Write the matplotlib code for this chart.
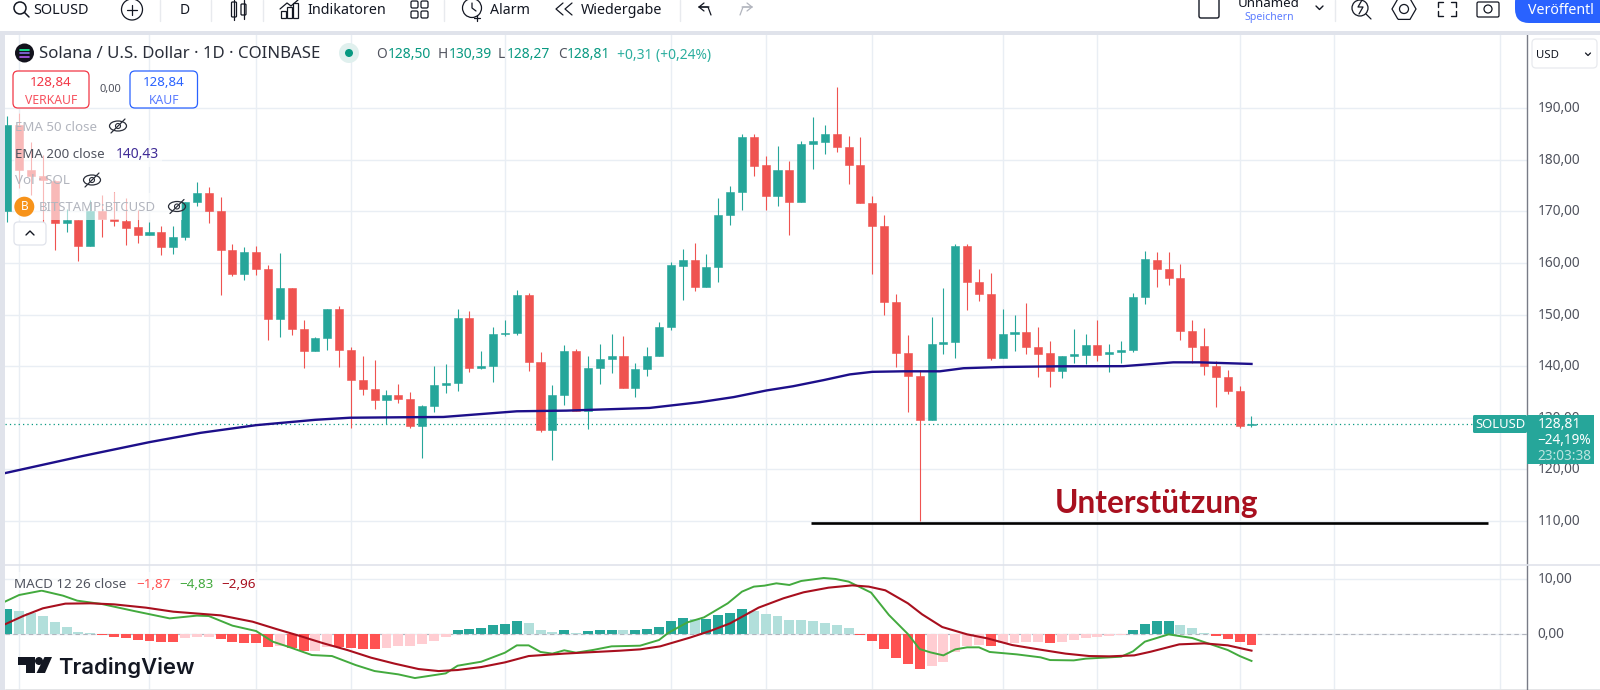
import matplotlib
matplotlib.use("Agg")
import matplotlib.pyplot as plt
from matplotlib.patches import Rectangle, Circle, Ellipse, FancyBboxPatch, Polygon, RegularPolygon
from matplotlib.ticker import FuncFormatter
from matplotlib.transforms import ScaledTranslation

plt.rcParams["font.family"] = ["Noto Sans", "DejaVu Sans"]

# tageskerzen SOL/USD
opens = [169.99, 186.77, 178.06, 176.89, 175.8, 167.73, 168.37, 163.21, 169.99, 168.57,
         168.05, 166.89, 165.47, 165.98, 163.01, 164.95, 171.79, 173.54, 170.12, 162.5,
         157.78, 162.11, 158.88, 149.2, 155.07, 147.13, 143.0, 145.39, 151.14, 143.19,
         137.25, 135.58, 133.45, 134.48, 133.64, 128.41, 132.22, 136.41, 136.74, 149.39,
         139.71, 139.97, 146.29, 146.36, 153.72, 140.74, 127.7, 134.35, 143.0, 131.38,
         139.71, 141.39, 141.97, 135.71, 139.51, 141.97, 147.65, 159.33, 160.56, 155.4,
         159.2, 169.21, 173.73, 184.45, 178.96, 173.02, 178.06, 171.79, 183.09, 183.54,
         185.03, 182.58, 179.09, 171.66, 167.15, 152.49, 142.48, 138.16, 129.64, 144.36,
         144.68, 163.21, 156.36, 154.04, 141.52, 146.23, 146.62, 143.65, 142.48, 139.0,
         141.9, 142.23, 144.16, 142.29, 142.81, 143.13, 153.4, 160.63, 158.88, 157.14,
         146.81, 143.84, 140.03, 137.97, 135.19, 128.5]
highs = [188.52, 189.03, 183.54, 180.96, 176.12, 170.44, 168.37, 172.25, 173.09, 173.73,
         172.57, 170.31, 167.92, 167.08, 167.21, 171.79, 175.67, 174.7, 172.76, 163.72,
         163.08, 163.34, 159.59, 161.85, 155.07, 148.88, 145.65, 151.14, 151.72, 143.71,
         141.9, 141.26, 135.45, 136.61, 135.06, 132.54, 139.97, 140.48, 151.14, 150.62,
         143.0, 147.52, 149.0, 154.81, 154.17, 142.68, 136.41, 144.16, 143.32, 142.03,
         144.23, 146.29, 145.91, 140.61, 143.71, 148.55, 160.11, 162.76, 163.85, 161.72,
         172.63, 174.96, 185.03, 185.03, 180.77, 182.7, 179.86, 183.67, 188.32, 186.77,
         194.07, 184.71, 184.51, 172.96, 169.34, 153.91, 145.97, 139.19, 149.59, 155.14,
         163.72, 163.6, 158.88, 158.04, 151.14, 149.91, 152.17, 147.65, 144.94, 141.97,
         147.2, 146.29, 148.94, 144.36, 144.94, 154.17, 162.37, 162.05, 162.05, 159.85,
         148.88, 147.39, 141.06, 139.19, 136.09, 130.39]
lows = [167.86, 174.51, 173.21, 165.79, 162.56, 165.92, 160.43, 163.21, 164.95, 167.08,
        163.53, 163.85, 165.34, 161.46, 161.66, 164.37, 171.08, 167.66, 153.85, 157.4,
        156.62, 157.59, 145.0, 145.58, 146.03, 139.64, 142.87, 143.06, 139.84, 128.02,
        134.48, 131.77, 128.8, 132.86, 128.02, 122.21, 131.19, 134.8, 135.12, 138.8,
        139.45, 136.87, 145.78, 145.97, 139.0, 127.18, 121.89, 132.41, 131.25, 127.89,
        136.54, 138.61, 135.71, 133.96, 138.09, 141.9, 147.07, 152.75, 154.49, 155.27,
        156.24, 167.27, 170.37, 176.77, 170.18, 171.08, 165.34, 171.79, 178.19, 181.16,
        181.61, 175.41, 171.66, 157.78, 149.84, 139.77, 131.19, 110.0, 129.51, 142.42,
        141.52, 150.81, 152.55, 141.13, 141.52, 142.87, 142.42, 137.9, 136.03, 137.71,
        140.68, 140.48, 140.93, 138.93, 140.68, 142.68, 152.1, 155.33, 155.72, 145.0,
        140.61, 138.22, 132.03, 134.61, 128.02, 128.27]
closes = [186.77, 178.06, 176.77, 176.12, 167.73, 168.37, 163.21, 169.99, 168.57, 168.05,
          166.76, 165.47, 165.98, 163.01, 164.95, 171.79, 173.54, 170.12, 162.43, 157.78,
          162.11, 158.88, 149.2, 155.07, 147.13, 143.0, 145.39, 151.14, 143.13, 137.25,
          135.51, 133.45, 134.48, 133.57, 128.41, 132.28, 136.41, 136.8, 149.39, 139.71,
          140.1, 146.29, 146.49, 153.72, 140.74, 127.7, 134.35, 143.0, 131.38, 139.71,
          141.39, 141.97, 135.71, 139.51, 141.97, 147.65, 159.59, 160.56, 155.4, 159.2,
          169.28, 173.73, 184.45, 178.9, 173.02, 178.06, 171.79, 183.09, 183.67, 185.03,
          182.58, 179.09, 171.66, 167.15, 152.49, 142.48, 138.16, 129.64, 144.36, 144.68,
          163.21, 156.24, 154.04, 141.52, 146.23, 146.62, 143.65, 142.42, 139.0, 141.97,
          142.42, 144.16, 142.23, 142.81, 143.13, 153.4, 160.75, 158.88, 157.14, 146.75,
          143.78, 139.97, 137.97, 135.12, 128.35, 128.81]

# EMA 200
ema_days = [-0.2, 6.4, 12, 16.3, 21, 26, 28.9, 33.7, 36.8, 43, 47.2, 54.2, 58.4, 61.3, 64.1,
            66.3, 68.9, 71.1, 73, 75.6, 78.7, 80.7, 84, 88.6, 94.2, 96.5, 98.4, 100.6, 104, 105]
ema_values = [119.26, 122.6, 125.27, 127.07, 128.56, 129.6, 130.0, 130.1, 130.15, 131.25, 131.38,
              131.9, 133.0, 134.0, 135.3, 136.1, 137.3, 138.4, 138.9, 139.0, 139.0, 139.6, 139.84,
              139.97, 140.0, 140.4, 140.74, 140.74, 140.5, 140.43]

# MACD histogramm, ein wert pro kerze
hist_values = [4.6, 4.3, 3.8, 3.33, 2.24, 1.39, 0.42, 0.18, -0.12, -0.42,
               -0.67, -1.0, -1.2, -1.3, -1.35, -0.73, -0.48, -0.45, -0.8, -1.45,
               -1.5, -1.58, -2.24, -2.2, -2.55, -3.0, -2.95, -2.24, -2.3, -2.55,
               -2.65, -2.7, -2.5, -2.1, -2.05, -1.8, -1.15, -0.48, 0.85, 1.03,
               1.21, 1.7, 1.88, 2.48, 2.06, 0.73, 0.36, 0.73, 0.24, 0.55,
               0.73, 0.85, 0.79, 0.85, 0.97, 1.39, 2.36, 3.03, 2.79, 2.85,
               3.52, 3.82, 4.6, 4.3, 3.7, 3.33, 2.6, 2.55, 2.42, 2.06,
               1.7, 1.09, -0.18, -1.21, -2.6, -4.24, -5.33, -6.36, -5.7, -5.09,
               -3.15, -2.05, -1.94, -2.06, -1.64, -1.5, -1.45, -1.4, -1.5, -1.3,
               -0.97, -0.67, -0.42, -0.24, -0.18, 0.85, 1.88, 2.36, 2.4, 1.7,
               1.09, 0.24, -0.3, -0.8, -1.45, -1.87]

macd_days = [-0.2, 1, 2.9, 4.7, 5.9, 8, 10.7, 13.7, 16, 17, 19, 21, 22.4, 23.7, 25.7, 27.4, 29.4,
             31, 33, 34.4, 37, 38, 40, 42, 43, 44, 45, 46, 47, 48, 49.4, 51, 53.4, 55, 55.8, 57.4,
             58.8, 60.8, 62, 63, 63.9, 64.9, 66, 67, 68.9, 69.9, 71, 72.9, 74.4, 76, 77, 77.9, 79,
             80, 81, 82, 82.9, 85.2, 87.2, 88, 90, 91, 94, 95, 96, 98, 100, 103, 104, 105]
macd_values = [5.94, 7.15, 7.94, 7.03, 6.12, 5.5, 4.24, 2.9, 3.4, 3.33, 1.58, 0.6, -1.33, -2.24,
               -3.76, -3.94, -5.58, -6.67, -7.27, -7.94, -7.09, -5.7, -4.97, -3.33, -2.0, -2.0,
               -3.2, -3.5, -2.9, -3.33, -2.85, -2.18, -2.06, -1.03, 0.3, 2.18, 3.09, 5.64, 7.76,
               8.67, 8.85, 9.27, 8.97, 9.7, 10.24, 10.06, 9.58, 7.58, 3.52, 0.06, -2.67, -3.27,
               -3.82, -2.73, -2.36, -2.36, -3.2, -3.64, -4.18, -4.67, -4.73, -4.42, -4.06, -3.09,
               -1.33, 0.0, -0.67, -2.85, -3.94, -4.83]

signal_days = [-0.2, 1.4, 3, 4.9, 7, 9, 11.7, 14, 18, 20.7, 22.7, 24.7, 26.7, 28.7, 30.7, 32.7,
               34.7, 36.4, 38, 40, 42, 44, 47, 49, 51.7, 53.4, 55.1, 57.6, 59.3, 61, 63.4, 65.5,
               67.2, 69.3, 71.3, 72.7, 74.1, 76, 77.2, 78.9, 81, 82.7, 84.8, 87.2, 89.3, 91.3,
               93, 95.1, 96.5, 98.9, 101, 103, 105]
signal_values = [1.82, 3.39, 4.73, 5.58, 5.64, 5.45, 4.85, 4.12, 3.45, 2.3, 0.97, -0.3, -1.64, -2.85,
                 -4.24, -5.33, -6.3, -6.67, -6.48, -5.94, -5.09, -3.94, -3.5, -3.27, -2.97, -2.73,
                 -2.18, -0.6, 0.6, 2.0, 4.85, 6.55, 7.64, 8.48, 8.9, 8.67, 8.0, 5.64, 3.64, 1.33,
                 0.0, -0.73, -1.94, -2.79, -3.5, -3.94, -4.0, -3.82, -3.15, -1.82, -1.64, -2.0, -2.96]

month_days = [1, 12, 21, 29, 42, 56, 64, 73, 84, 92, 104, 112, 126]
price_ticks = [110, 120, 130, 140, 150, 160, 170, 180, 190]
macd_ticks = [0, 10]
last_price = 128.81
support_price = 109.5
support_days = [67.8, 125.0]

TEAL = "#26A69A"
RED = "#EF5350"
GRID = "#E9EEF4"
LINE = "#E0E3EB"
AXIS = "#787B86"
TXT = "#131722"
GREY = "#50535E"
PALE = "#B2B5BE"

W, H = 1600, 690
fig = plt.figure(figsize=(16, 6.9), dpi=100, facecolor="white")


def pane(top, bottom):
    return fig.add_axes([5 / W, (H - bottom) / H, 1522 / W, (bottom - top) / H])


def komma(v, pos):
    return f"{v:.2f}".replace(".", ",")


ax = pane(35, 565)
ax2 = pane(565, 689)
for a in (ax, ax2):
    a.set_xlim(-0.194, 128.25)
    a.set_xticks(month_days)
    a.tick_params(axis="x", length=0, labelbottom=False)
    a.grid(True, color=GRID, lw=1.0)
    a.set_axisbelow(True)
    a.yaxis.tick_right()
    a.yaxis.set_major_formatter(FuncFormatter(komma))
    a.tick_params(axis="y", length=0, pad=7.5, labelsize=9.9, labelcolor=GREY)
    for s in ("top", "left", "bottom"):
        a.spines[s].set_visible(False)
    a.spines["right"].set_color(AXIS)
    a.spines["right"].set_linewidth(1.0)

ax.set_ylim(101.45, 204.2)
ax.set_yticks(price_ticks)
ax2.set_ylim(-9.93, 12.6)
ax2.set_yticks(macd_ticks)
# die skalentexte sitzen etwas hoeher als die gitterlinien
hoch = ScaledTranslation(0, 1.5 / 100, fig.dpi_scale_trans)
for a in (ax, ax2):
    for t in a.get_yticklabels():
        t.set_transform(t.get_transform() + hoch)

# kerzen
days = list(range(len(closes)))
up = [c >= o for o, c in zip(opens, closes)]
col = [TEAL if u else RED for u in up]
ax.vlines(days, lows, highs, colors=col, lw=0.8, zorder=3)
ax.bar(days, [abs(c - o) for o, c in zip(opens, closes)], bottom=[min(o, c) for o, c in zip(opens, closes)],
       width=0.68, color=col, edgecolor=col, lw=0.4, zorder=4)
ax.plot(ema_days, ema_values, color="#1D0F8A", lw=1.7, zorder=5)
ax.axhline(last_price, color="#089981", lw=0.9, ls=(0, (1, 2.5)), zorder=2)
ax.plot(support_days, [support_price, support_price], color="black", lw=1.9, zorder=6, solid_capstyle="butt")

# macd
hcol = []
prev = None
for v in hist_values:
    stark = prev is None or (v > prev if v >= 0 else v < prev)
    if v >= 0:
        hcol.append("#26A69A" if stark else "#B2DFDB")
    else:
        hcol.append("#FF5252" if stark else "#FFCDD2")
    prev = v
ax2.bar(days, hist_values, width=0.84, color=hcol, zorder=3)
ax2.axhline(0, color=PALE, lw=0.8, ls=(0, (4, 3)), zorder=2)
ax2.plot(macd_days, macd_values, color="#43AA3E", lw=1.4, zorder=4)
ax2.plot(signal_days, signal_values, color="#A80F1E", lw=1.5, zorder=5)

# oberflaeche in pixelkoordinaten
ui = fig.add_axes([0, 0, 1, 1], facecolor="none")
ui.set_xlim(0, W)
ui.set_ylim(H, 0)
ui.axis("off")


def rect(x, y, w, h, **kw):
    kw.setdefault("lw", 0)
    ui.add_patch(Rectangle((x, y), w, h, **kw))


def label(x, y, s, size=9.2, color=TXT, ha="left", **kw):
    ui.text(x, y, s, fontsize=size, color=color, ha=ha, va="center", **kw)


def strich(xs, ys, color=TXT, lw=1.0):
    ui.plot(xs, ys, color=color, lw=lw, solid_capstyle="round")


def auge(x, y):
    ui.add_patch(Ellipse((x, y), 17, 10, fc="none", ec="#2A2E39", lw=0.9))
    ui.add_patch(Circle((x, y), 2.5, fc="none", ec="#2A2E39", lw=0.8))
    strich([x - 7, x + 7], [y + 7, y - 7], "#2A2E39", 0.9)


def rund(x, y, w, h, r, **kw):
    ui.add_patch(FancyBboxPatch((x + r, y + r), w - 2 * r, h - 2 * r,
                                boxstyle=f"round,pad={r},rounding_size={r}", **kw))


# rahmen
rect(0, 30.5, W, 4.5, fc=LINE)
rect(0, 30.5, 4.5, H, fc=LINE)
strich([5, W], [565, 565], LINE, 1.2)
strich([5, W], [689.5, 689.5], AXIS, 1.0)

# werkzeugleiste
ui.add_patch(Circle((20, 8), 6, fc="none", ec=TXT, lw=1.1))
strich([24.5, 29], [12.5, 17], TXT, 1.1)
label(33.5, 10.5, "SOLUSD", 10.4, TXT, fontweight="semibold")
ui.add_patch(Circle((132, 9.5), 10.5, fc="none", ec=TXT, lw=0.9))
strich([127, 137], [9.5, 9.5], TXT, 0.9)
strich([132, 132], [4.5, 14.5], TXT, 0.9)
for sx in (160, 211, 263, 444, 680, 1335):
    strich([sx, sx], [0, 21], "#E8EAEE", 1.0)
label(185, 11, "D", 10, TXT, ha="center")
rund(231.5, 2, 5, 15, 1, fc="none", ec=TXT, lw=0.9)
rund(241, 4, 5, 11, 1, fc="none", ec=TXT, lw=0.9)
strich([234, 234], [0, 20], TXT, 0.9)
strich([243.5, 243.5], [0, 19], TXT, 0.9)
for bx, bh in zip((281, 287, 293), (7, 11, 15)):
    rect(bx, 18 - bh, 5, bh, fc="none", ec=TXT, lw=0.9)
strich([280, 287, 291, 298], [9, 3, 6, 0], TXT, 0.9)
label(307, 11, "Indikatoren", 10.3)
for qx in (411, 421):
    for qy in (1, 11):
        rund(qx, qy, 7, 7, 1.5, fc="none", ec=TXT, lw=0.9)
ui.add_patch(Circle((472, 8), 9.5, fc="none", ec=TXT, lw=0.9))
strich([472, 472, 476], [3, 8, 11], TXT, 0.9)
strich([477, 477], [15, 21], TXT, 0.9)
strich([474, 480], [18, 18], TXT, 0.9)
label(490, 11, "Alarm", 10.2)
strich([563, 556, 563], [3, 9, 15], TXT, 0.9)
strich([572, 565, 572], [3, 9, 15], TXT, 0.9)
label(581, 11, "Wiedergabe", 10.3)
strich([709, 699, 704], [7, 7, 3], TXT, 0.9)
strich([699, 704], [7, 11], TXT, 0.9)
strich([699, 708, 711], [7, 7, 15], TXT, 0.9)
strich([742, 752, 747], [7, 7, 3], PALE, 0.9)
strich([752, 747], [7, 11], PALE, 0.9)
strich([752, 743, 740], [7, 7, 15], PALE, 0.9)

rund(1199, -3, 20, 21, 2, fc="none", ec=TXT, lw=1.0)
label(1269, 3.5, "Unnamed", 9.6, TXT, ha="center")
label(1269, 17.5, "Speichern", 7.6, "#5B7CFF", ha="center")
strich([1316, 1319.5, 1323], [6, 9.5, 6], TXT, 1.0)
ui.add_patch(Circle((1360, 8), 8, fc="none", ec=TXT, lw=0.9))
strich([1366, 1371], [14, 19], TXT, 0.9)
strich([1362, 1358, 1363, 1359], [0, 7, 7, 14], TXT, 0.9)
ui.add_patch(RegularPolygon((1404, 9), 6, radius=12, orientation=0.5236, fc="none", ec=TXT, lw=0.9))
ui.add_patch(Circle((1404, 9), 4.5, fc="none", ec=TXT, lw=0.9))
for fx, fy, dx, dy in ((1438, 2, 1, 1), (1456, 2, -1, 1), (1438, 16, 1, -1), (1456, 16, -1, -1)):
    strich([fx + 5 * dx, fx, fx], [fy, fy, fy + 5 * dy], TXT, 1.0)
rund(1477, 2, 22, 15, 1.5, fc="none", ec=TXT, lw=0.9)
ui.add_patch(Circle((1488, 9), 4, fc="none", ec=TXT, lw=0.9))
rund(1515, -12, 110, 35, 14, fc="#2962FF", ec="none")
label(1528, 10.5, "Veröffentl", 10.2, "white", fontweight="semibold", clip_on=True)

# USD feld
rund(1532, 39, 65, 29, 4, fc="white", ec="#E8EAEE", lw=0.9)
label(1536, 55.5, "USD", 8.2, TXT)
strich([1585.5, 1588, 1590.5], [53, 55.5, 53], TXT, 0.9)

# legenden schleier
for ry, rh, rw in ((113, 27, 121), (140, 27, 148), (167, 26, 92), (193, 27, 168)):
    rect(14, ry, rw, rh, fc="white", alpha=0.6, zorder=1)
rect(14, 572, 245, 18, fc="white", alpha=0.6, zorder=1)

# kopfzeile
ui.add_patch(Circle((24.5, 53), 9.5, fc="#12121C", ec="none"))
for sy, sc in ((49.5, "#19FB9B"), (53, "#8A6FE8"), (56.5, "#B45CF0")):
    strich([20, 29], [sy, sy], sc, 1.2)
label(39, 54.5, "Solana / U.S. Dollar · 1D · COINBASE", 12.1, "#2A2E39")
ui.add_patch(Circle((349, 53), 10, fc="#E0F0EE", ec="none"))
ui.add_patch(Circle((349, 53), 4, fc="#089981", ec="none"))
for ox, s in ((376.5, "O"), (438, "H"), (498, "L"), (558, "C")):
    label(ox, 55, s, 9.8, GREY)
for ox, s in ((388, "128,50"), (449, "130,39"), (507, "128,27"), (567, "128,81")):
    label(ox, 55, s, 10, "#089981")
label(617, 55, "+0,31 (+0,24%)", 10, "#2BAE9E")

rund(13, 71, 76, 37, 5, fc="white", ec="#F23645", lw=0.9)
label(51, 83, "128,84", 9.6, "#F23645", ha="center")
label(51, 100.5, "VERKAUF", 8.8, "#F7525F", ha="center")
label(110, 89.5, "0,00", 8, GREY, ha="center")
rund(130, 71, 67.5, 37, 5, fc="white", ec="#2962FF", lw=0.9)
label(164, 83, "128,84", 9.6, "#2962FF", ha="center")
label(164, 100.5, "KAUF", 8.8, "#5B7CFF", ha="center")

label(15, 127.5, "EMA 50 close", 9.6, PALE)
auge(118, 126)
label(15, 154, "EMA 200 close", 9.6, GREY)
label(115.5, 154, "140,43", 10, "#3F2B96")
label(15, 181, "Vol · SOL", 9.6, PALE)
auge(92, 180)
ui.add_patch(Circle((24.3, 206.7), 10, fc="#F7931A", ec="none"))
label(24.3, 206.5, "B", 8.5, "white", ha="center", fontweight="bold")
label(39, 207.7, "BITSTAMP:BTCUSD", 9.5, PALE)
auge(177, 206.5)
rund(14, 222, 32, 23, 4, fc="white", ec="#E0E3EB", lw=0.9)
strich([26, 30, 34], [235, 231, 235], TXT, 1.0)

# macd legende
label(14, 585, "MACD 12 26 close", 9.7, GREY)
label(136.5, 585, "−1,87", 9.7, "#FF5252")
label(179, 585, "−4,83", 9.7, "#43AA3E")
label(221.5, 585, "−2,96", 9.7, "#A80F1E")

# logo
ui.add_patch(Polygon([(18, 657), (35, 657), (35, 673), (26, 673), (26, 665), (18, 665)], fc=TXT, ec="none"))
ui.add_patch(Circle((39, 661), 4, fc=TXT, ec="none"))
ui.add_patch(Polygon([(44.5, 657), (52, 657), (45, 673), (36.5, 673)], fc=TXT, ec="none"))
label(58, 667.5, "TradingView", 15.9, TXT, family=["Inter", "DejaVu Sans"], fontweight="semibold")

# kursmarke
rund(1473, 415, 54, 18, 1.5, fc=TEAL, ec="none")
label(1500, 425, "SOLUSD", 9.4, "white", ha="center", fontweight="medium")
rect(1527, 415, 67, 49, fc=TEAL)
label(1537.5, 425, "128,81", 10, "white", fontweight="medium")
label(1537.5, 441, "−24,19%", 9.8, "white", fontweight="medium")
label(1537.5, 457, "23:03:38", 9.8, "#BDE5E0")

# anmerkung
label(1055, 503.5, "Unterstützung", 22.8, "#A8101F", family=["Lato", "DejaVu Sans"], fontweight="bold")

fig.savefig("out.png", dpi=100, facecolor="white")
